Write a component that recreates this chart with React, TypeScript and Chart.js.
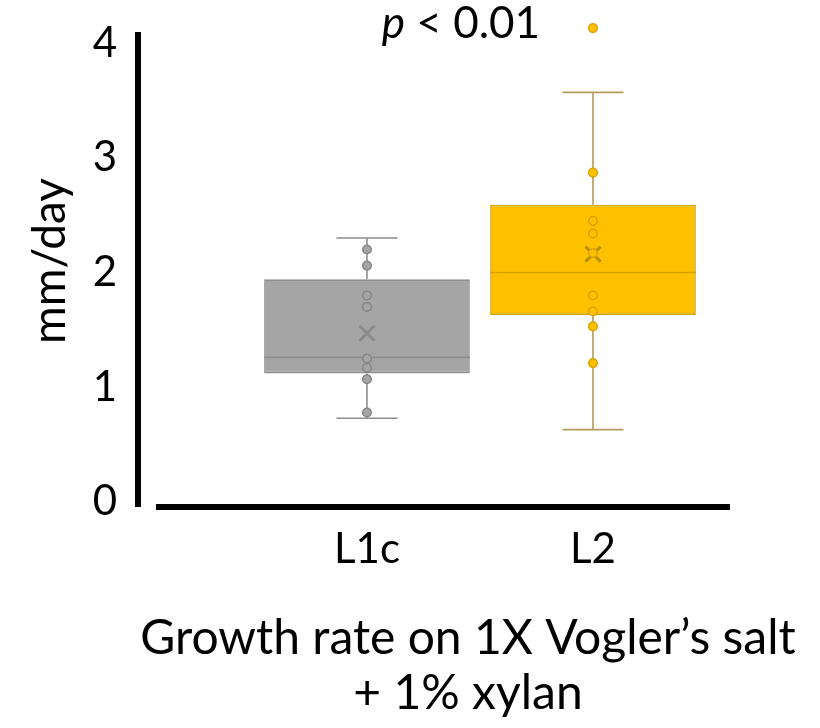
import React, { useEffect, useRef } from 'react';
import { Chart, registerables } from 'chart.js';

Chart.register(...registerables);

// ---- data ----
const categories = ['L1c', 'L2'];
const yTickValues = [0, 1, 2, 3, 4];
const whiskerLow = [0.73, 0.63];
const quartile1 = [1.12, 1.63];
const medians = [1.26, 2.0];
const quartile3 = [1.94, 2.59];
const whiskerHigh = [2.3, 3.57];
const means = [1.47, 2.16];
const pointsL1c = [2.2, 2.06, 1.8, 1.7, 1.25, 1.17, 1.07, 0.78];
const pointsL2 = [4.13, 2.87, 2.45, 2.34, 2.17, 1.8, 1.66, 1.53, 1.21];
const pValueText = ['p', ' < 0.01'];
const yTitle = 'mm/day';
const xTitle = ['Growth rate on 1X Vogler\u2019s salt', '+ 1% xylan'];

// ---- styles ----
const FONT = 'Lato, "Open Sans", sans-serif';
const boxFill = ['#A5A5A5', '#FFC000'];
const boxBorder = ['#8E8E8E', '#D4A300'];
const whiskerColor = ['#8E8E8E', '#B09A5C'];
const meanColor = ['#8A8A8A', '#B8900E'];

const boxPlotPlugin = {
  id: 'boxPlotExtras',
  beforeDatasetsDraw(chart: any) {
    const { ctx, scales } = chart;
    const xs = scales.x;
    const ys = scales.y;
    const step = xs.getPixelForValue(2) - xs.getPixelForValue(1);
    ctx.save();
    categories.forEach((_, i) => {
      const cx = xs.getPixelForValue(i + 1);
      const capHalf = step * 0.135;
      ctx.strokeStyle = whiskerColor[i];
      ctx.lineWidth = 1.6;
      ctx.beginPath();
      ctx.moveTo(cx, ys.getPixelForValue(whiskerHigh[i]));
      ctx.lineTo(cx, ys.getPixelForValue(quartile3[i]));
      ctx.moveTo(cx, ys.getPixelForValue(quartile1[i]));
      ctx.lineTo(cx, ys.getPixelForValue(whiskerLow[i]));
      ctx.moveTo(cx - capHalf, ys.getPixelForValue(whiskerHigh[i]));
      ctx.lineTo(cx + capHalf, ys.getPixelForValue(whiskerHigh[i]));
      ctx.moveTo(cx - capHalf, ys.getPixelForValue(whiskerLow[i]));
      ctx.lineTo(cx + capHalf, ys.getPixelForValue(whiskerLow[i]));
      ctx.stroke();
    });
    ctx.restore();
  },
  afterDatasetDraw(chart: any, args: any) {
    if (args.index !== 0) return;
    const { ctx, scales } = chart;
    const meta = chart.getDatasetMeta(0);
    ctx.save();
    meta.data.forEach((bar: any, i: number) => {
      const half = bar.width / 2;
      const y = scales.y.getPixelForValue(medians[i]);
      ctx.strokeStyle = boxBorder[i];
      ctx.lineWidth = 1.6;
      ctx.beginPath();
      ctx.moveTo(bar.x - half, y);
      ctx.lineTo(bar.x + half, y);
      ctx.stroke();
      const my = scales.y.getPixelForValue(means[i]);
      const s = 7.5;
      ctx.strokeStyle = meanColor[i];
      ctx.lineWidth = 3;
      ctx.beginPath();
      ctx.moveTo(bar.x - s, my - s);
      ctx.lineTo(bar.x + s, my + s);
      ctx.moveTo(bar.x + s, my - s);
      ctx.lineTo(bar.x - s, my + s);
      ctx.stroke();
    });
    ctx.restore();
  },
  afterDraw(chart: any) {
    const { ctx, chartArea, scales } = chart;
    ctx.save();
    ctx.fillStyle = '#000';
    // y axis line
    ctx.fillRect(chartArea.left - 3, chartArea.top, 6, chartArea.bottom - chartArea.top);
    // x axis line
    ctx.fillRect(chartArea.left + 18, chartArea.bottom - 3, chartArea.right - chartArea.left - 86, 6);
    // y title
    ctx.save();
    ctx.translate(50, scales.y.getPixelForValue(2.1));
    ctx.rotate(-Math.PI / 2);
    ctx.font = `46px ${FONT}`;
    ctx.textAlign = 'center';
    ctx.textBaseline = 'middle';
    ctx.fillText(yTitle, 0, 0);
    ctx.restore();
    // p value
    const mid = (scales.x.getPixelForValue(1) + scales.x.getPixelForValue(2)) / 2;
    ctx.textBaseline = 'alphabetic';
    ctx.font = `italic 44px ${FONT}`;
    const w1 = ctx.measureText(pValueText[0]).width;
    ctx.font = `44px ${FONT}`;
    const w2 = ctx.measureText(pValueText[1]).width;
    const startX = mid - 19 - (w1 + w2) / 2;
    const baseY = chartArea.top + 6;
    ctx.font = `italic 44px ${FONT}`;
    ctx.fillText(pValueText[0], startX, baseY);
    ctx.font = `44px ${FONT}`;
    ctx.fillText(pValueText[1], startX + w1, baseY);
    ctx.restore();
  },
};

export default function App() {
  const canvasRef = useRef<HTMLCanvasElement | null>(null);

  useEffect(() => {
    if (!canvasRef.current) return;
    Chart.defaults.font.family = FONT;
    Chart.defaults.color = '#000';
    const chart = new Chart(canvasRef.current, {
      type: 'bar',
      data: {
        datasets: [
          {
            type: 'bar',
            data: categories.map((_, i) => ({ x: i + 1, y: [quartile1[i], quartile3[i]] })) as any,
            backgroundColor: boxFill,
            borderColor: boxBorder,
            borderWidth: 1.6,
            borderSkipped: false,
            barPercentage: 0.91,
            categoryPercentage: 1,
            order: 2,
          } as any,
          {
            type: 'scatter',
            data: pointsL1c.map((v) => ({ x: 1, y: v })),
            backgroundColor: boxFill[0],
            borderColor: '#868686',
            borderWidth: 1.5,
            pointRadius: 4.3,
            clip: false,
            order: 1,
          } as any,
          {
            type: 'scatter',
            data: pointsL2.map((v) => ({ x: 2, y: v })),
            backgroundColor: boxFill[1],
            borderColor: '#D9A400',
            borderWidth: 1.5,
            pointRadius: 4.3,
            clip: false,
            order: 1,
          } as any,
        ],
      },
      options: {
        animation: false,
        responsive: false,
        maintainAspectRatio: false,
        layout: { padding: { top: 32, right: 22, left: 0, bottom: 0 } },
        plugins: { legend: { display: false }, tooltip: { enabled: false }, title: { display: false } },
        scales: {
          x: {
            type: 'linear',
            offset: false,
            min: -0.013,
            max: 2.907,
            grid: { display: false, drawTicks: false, offset: false },
            border: { display: false },
            afterBuildTicks: (scale: any) => {
              scale.ticks = categories.map((_, i) => ({ value: i + 1 }));
            },
            afterFit: (scale: any) => {
              scale.height = 221;
              scale.paddingLeft = 0;
              scale.paddingRight = 0;
            },
            ticks: {
              autoSkip: false,
              maxRotation: 0,
              padding: 17,
              font: { size: 42 },
              color: '#000',
              callback: (_v: any, index: number) => categories[index],
            },
            title: {
              display: true,
              text: xTitle,
              font: { size: 48, lineHeight: 1.146 },
              color: '#000',
              padding: { top: 0, bottom: 7 },
            },
          },
          y: {
            type: 'linear',
            min: -0.044,
            max: 4.096,
            grid: { display: false, drawTicks: false },
            border: { display: false },
            afterBuildTicks: (scale: any) => {
              scale.ticks = yTickValues.map((v) => ({ value: v }));
            },
            afterFit: (scale: any) => {
              scale.width = 138;
              scale.paddingTop = 0;
              scale.paddingBottom = 0;
            },
            ticks: {
              padding: 21,
              font: { size: 42 },
              color: '#000',
            },
            title: { display: false },
          },
        },
      },
      plugins: [boxPlotPlugin],
    });
    return () => chart.destroy();
  }, []);

  return (
    <div style={{ position: 'fixed', left: 0, top: 0, width: 820, height: 728, background: '#fff' }}>
      <canvas ref={canvasRef} width={820} height={728} style={{ width: 820, height: 728 }} />
    </div>
  );
}
